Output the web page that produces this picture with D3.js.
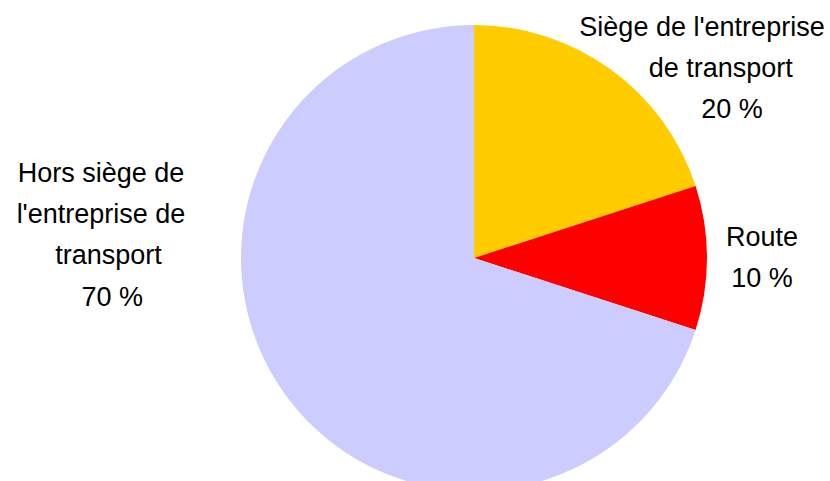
<!DOCTYPE html>
<html>
<head>
<meta charset="utf-8">
<script src="https://cdn.jsdelivr.net/npm/d3@7"></script>
<style>
  html, body { margin: 0; padding: 0; background: #fff; }
  svg { display: block; }
  text { font-family: "Liberation Sans", Arial, sans-serif; white-space: pre; }
</style>
</head>
<body>
<svg id="chart" width="830" height="481"></svg>
<script>
// Data
const categories = ["Siège de l'entreprise de transport", "Route", "Hors siège de l'entreprise de transport"];
const values = [20, 10, 70];
const colors = ["#FFCC00", "#FF0000", "#CCCCFF"];
const labelLines = [
  ["Siège de l'entreprise", "     de transport", "        20 %"],
  ["Route", "10 %"],
  ["Hors siège de", "l'entreprise de", "  transport", "   70 %"]
];

const svg = d3.select("#chart");
const W = 830, H = 481;
const cx = 474, cy = 258, R = 233;

const pie = d3.pie().sort(null).value(d => d)(values);
const arc = d3.arc().innerRadius(0).outerRadius(R);

const g = svg.append("g").attr("transform", `translate(${cx},${cy})`);
g.selectAll("path")
  .data(pie)
  .join("path")
  .attr("d", arc)
  .attr("fill", (d, i) => colors[i]);

// label anchors (center x, first baseline) relative to pie centre
const anchors = [
  [cx + 228, 35.7],
  [cx + 288, 246],
  [cx - 373, 181.7]
];
const lineH = 41.3;

labelLines.forEach((lines, i) => {
  const t = svg.append("text")
    .attr("text-anchor", "middle")
    .attr("font-size", 27)
    .attr("fill", "#000");
  lines.forEach((ln, j) => {
    t.append("tspan")
      .attr("x", anchors[i][0])
      .attr("y", anchors[i][1] + j * lineH)
      .attr("xml:space", "preserve")
      .text(ln);
  });
});
</script>
</body>
</html>
